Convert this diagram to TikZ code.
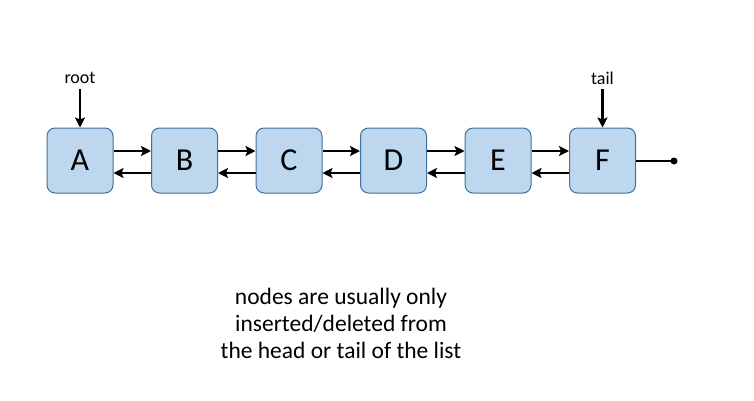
\documentclass[tikz,border=0pt]{standalone}
\usepackage{fontspec}
\setmainfont{Carlito}
\usetikzlibrary{arrows.meta}
\begin{document}
\begin{tikzpicture}[x=1pt,y=-1pt,
  listnode/.style={draw={rgb,255:red,65;green,113;blue,156}, fill={rgb,255:red,189;green,215;blue,238}, line width=1pt, rounded corners=8pt, minimum width=66pt, minimum height=65pt, inner sep=0pt, font=\fontsize{32}{38}\selectfont},
  link/.style={line width=2.3pt, -{Stealth[length=10pt,width=10pt,inset=2pt]}},
  label/.style={font=\fontsize{18}{22}\selectfont, inner sep=0pt}]
\useasboundingbox (0,0) rectangle (754,400);
\node[listnode] (A) at (80,160.5) {A};
\node[listnode] (B) at (184.5,160.5) {B};
\node[listnode] (C) at (289,160.5) {C};
\node[listnode] (D) at (393.5,160.5) {D};
\node[listnode] (E) at (498,160.5) {E};
\node[listnode] (F) at (602.5,160.5) {F};
\foreach \p/\q in {A/B,B/C,C/D,D/E,E/F}{
  \draw[link] ([yshift=9.5pt]\p.east) -- ([yshift=9.5pt]\q.west);
  \draw[link] ([yshift=-12.5pt]\q.west) -- ([yshift=-12.5pt]\p.east);
}
\node[label] (root) at (80,78) {root};
\node[label] (tail) at (602.5,78) {tail};
\draw[link] (80,89) -- (A.north);
\draw[link] (602.5,89) -- (F.north);
\coordinate (end) at (674,161);
\draw[line width=2.3pt] (F.east |- end) -- (end);
\fill (end) circle (3.5pt);
\node[align=center, font=\fontsize{23.5}{27}\selectfont] (txt) at (341,323) {nodes are usually only\\inserted/deleted from\\the head or tail of the list};
\end{tikzpicture}
\end{document}
